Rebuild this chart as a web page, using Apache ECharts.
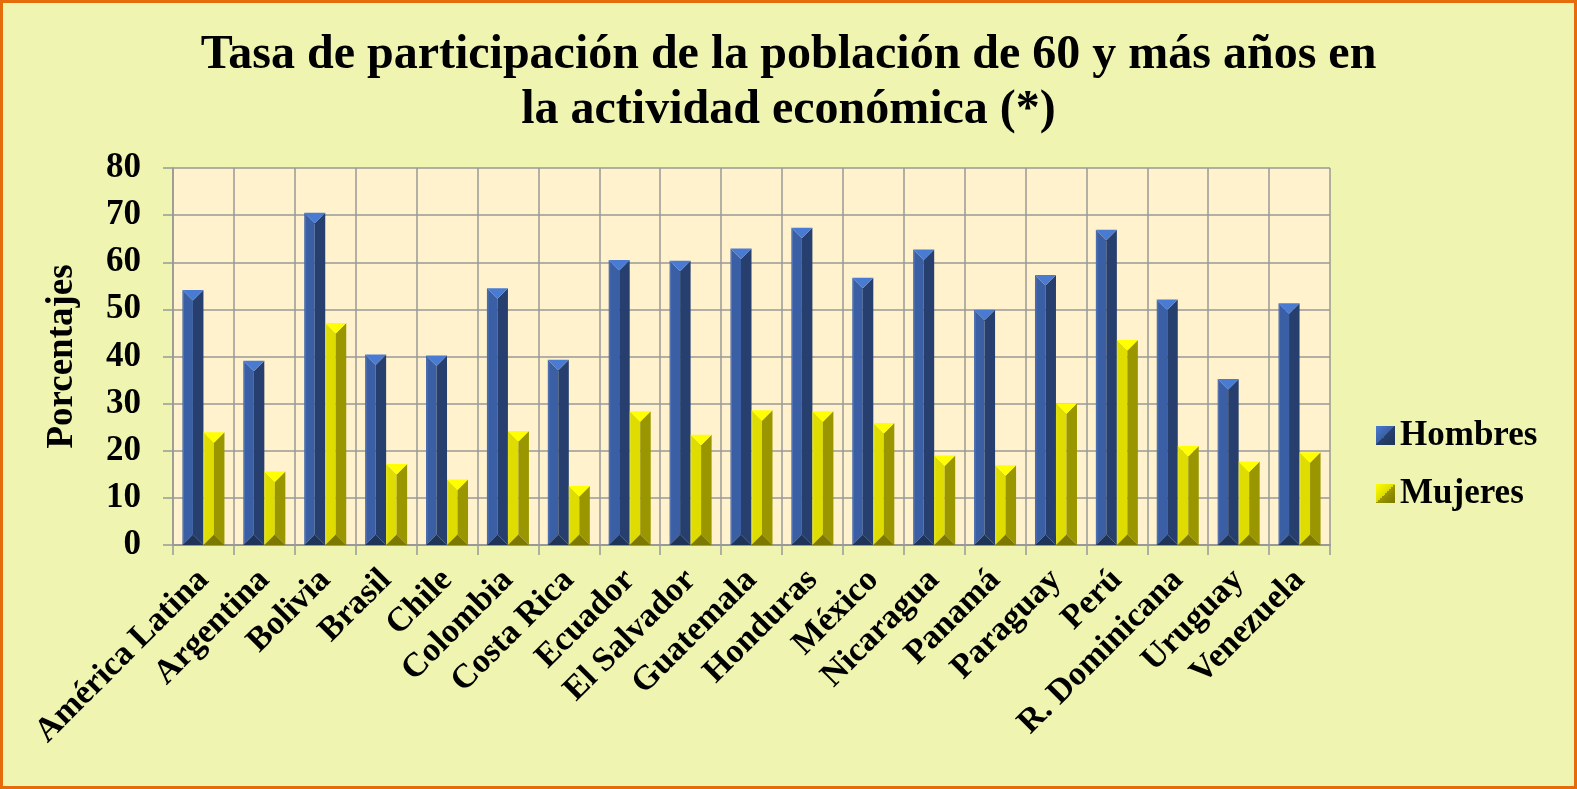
<!DOCTYPE html>
<html>
<head>
<meta charset="utf-8">
<script src="https://cdn.jsdelivr.net/npm/echarts@6/dist/echarts.min.js"></script>
<style>
    html, body { margin: 0; padding: 0; background: #EFF5B1; }
    #chart { width: 1577px; height: 789px; box-sizing: border-box; border: 3px solid #E46C0A; }
</style>
</head>
<body>
<div id="chart"></div>
<script>
var paises = ["América Latina", "Argentina", "Bolivia", "Brasil", "Chile", "Colombia", "Costa Rica", "Ecuador", "El Salvador", "Guatemala", "Honduras", "México", "Nicaragua", "Panamá", "Paraguay", "Perú", "R. Dominicana", "Uruguay", "Venezuela"];
var hombres = [54.1, 39.1, 70.5, 40.4, 40.2, 54.5, 39.3, 60.5, 60.3, 62.9, 67.3, 56.7, 62.7, 49.9, 57.3, 66.9, 52.1, 35.2, 51.3];
var mujeres = [23.9, 15.6, 47.1, 17.2, 13.9, 24.2, 12.5, 28.4, 23.4, 28.6, 28.4, 25.9, 19.0, 16.9, 30.1, 43.5, 21.0, 17.7, 19.7];
var yTicks = [0, 10, 20, 30, 40, 50, 60, 70, 80];

var chart = echarts.init(document.getElementById('chart'));
var fuente = '"Liberation Serif", "DejaVu Serif", serif';
var ANCHO = 21; // ancho de cada barra en px

// colores del bisel: arriba, izquierda, derecha, abajo
var azul = ['#4A7BD3', '#3A5FA5', '#263F6E', '#1F3459'];
var amarillo = ['#FFFF00', '#DEDC00', '#9A9600', '#7C7800'];

// barra con bisel tipo piramide (estilo Excel)
var barraBisel = function (lado, c) {
    return function (params, api) {
        var tope = api.coord([api.value(0), api.value(1)]);
        var base = api.coord([api.value(0), 0]);
        var x0 = lado < 0 ? tope[0] - ANCHO : tope[0];
        var x1 = x0 + ANCHO, xm = x0 + ANCHO / 2;
        var y0 = tope[1], y1 = base[1];
        var d = Math.min(ANCHO / 2, (y1 - y0) / 2);
        var poly = function (pts, color) {
            return { type: 'polygon', shape: { points: pts }, style: { fill: color } };
        };
        return {
            type: 'group',
            children: [
                poly([[x0, y0], [xm, y0 + d], [xm, y1 - d], [x0, y1]], c[1]),
                poly([[x1, y0], [xm, y0 + d], [xm, y1 - d], [x1, y1]], c[2]),
                poly([[x0, y0], [x1, y0], [xm, y0 + d]], c[0]),
                poly([[x0, y1], [x1, y1], [xm, y1 - d]], c[3]),
                { type: 'line', shape: { x1: x0 + 1, y1: y0 + 2, x2: x0 + 1, y2: y1 - 2 }, style: { stroke: 'rgba(255,255,255,0.15)', lineWidth: 1 } }
            ]
        };
    };
};

var icono = function (c) {
    return new echarts.graphic.LinearGradient(0, 0, 1, 1, [
        { offset: 0, color: c[0] }, { offset: 0.5, color: c[1] },
        { offset: 0.5, color: c[2] }, { offset: 1, color: c[3] }
    ]);
};

var toPares = function (arr) {
    var out = [];
    for (var i in arr) {
        out.push([Number(i), arr[i]]);
    }
    return out;
};

var option = {
    backgroundColor: 'transparent',
    title: {
        text: 'Tasa de participación de la población de 60 y más años en\nla actividad económica (*)',
        left: 'center',
        top: 20,
        textStyle: {
            fontFamily: fuente,
            fontWeight: 'bold',
            fontSize: 48,
            lineHeight: 55,
            color: '#000'
        }
    },
    legend: {
        orient: 'vertical',
        left: 1368,
        top: 410,
        itemWidth: 19,
        itemHeight: 19,
        itemGap: 23,
        icon: 'rect',
        textStyle: { fontFamily: fuente, fontWeight: 'bold', fontSize: 35, color: '#000', padding: [0, 0, 0, 0] },
        data: ['Hombres', 'Mujeres']
    },
    grid: { left: 170, right: 244, top: 165, bottom: 241 },
    xAxis: {
        type: 'category',
        data: paises,
        axisLine: { show: true, lineStyle: { color: '#999', width: 2 } },
        axisTick: { show: true, length: 10, lineStyle: { color: '#999', width: 1.5 } },
        splitLine: { show: true, lineStyle: { color: '#999', width: 1.5 } },
        axisLabel: {
            interval: 0,
            rotate: 45,
            margin: 30,
            fontFamily: fuente,
            fontWeight: 'bold',
            fontSize: 34,
            color: '#000'
        }
    },
    yAxis: {
        type: 'value',
        min: yTicks[0],
        max: yTicks[yTicks.length - 1],
        interval: 10,
        name: 'Porcentajes',
        nameLocation: 'middle',
        nameGap: 92,
        nameRotate: 90,
        nameTextStyle: { fontFamily: fuente, fontWeight: 'bold', fontSize: 37, color: '#000' },
        axisLine: { show: true, lineStyle: { color: '#999', width: 1.5 } },
        axisTick: { show: true, length: 10, lineStyle: { color: '#999', width: 1.5 } },
        splitLine: { show: true, lineStyle: { color: '#999', width: 1.5 } },
        splitArea: { show: true, areaStyle: { color: ['#FFF2CC', '#FFF2CC'] } },
        axisLabel: {
            margin: 32,
            fontFamily: fuente,
            fontWeight: 'bold',
            fontSize: 35,
            color: '#000'
        }
    },
    series: [{
        name: 'Hombres',
        type: 'custom',
        renderItem: barraBisel(-1, azul),
        itemStyle: { color: icono(azul) },
        encode: { x: 0, y: 1 },
        data: toPares(hombres),
        z: 3
    }, {
        name: 'Mujeres',
        type: 'custom',
        renderItem: barraBisel(1, amarillo),
        itemStyle: { color: icono(amarillo) },
        encode: { x: 0, y: 1 },
        data: toPares(mujeres),
        z: 3
    }]
};

chart.setOption(option);
</script>
</body>
</html>
